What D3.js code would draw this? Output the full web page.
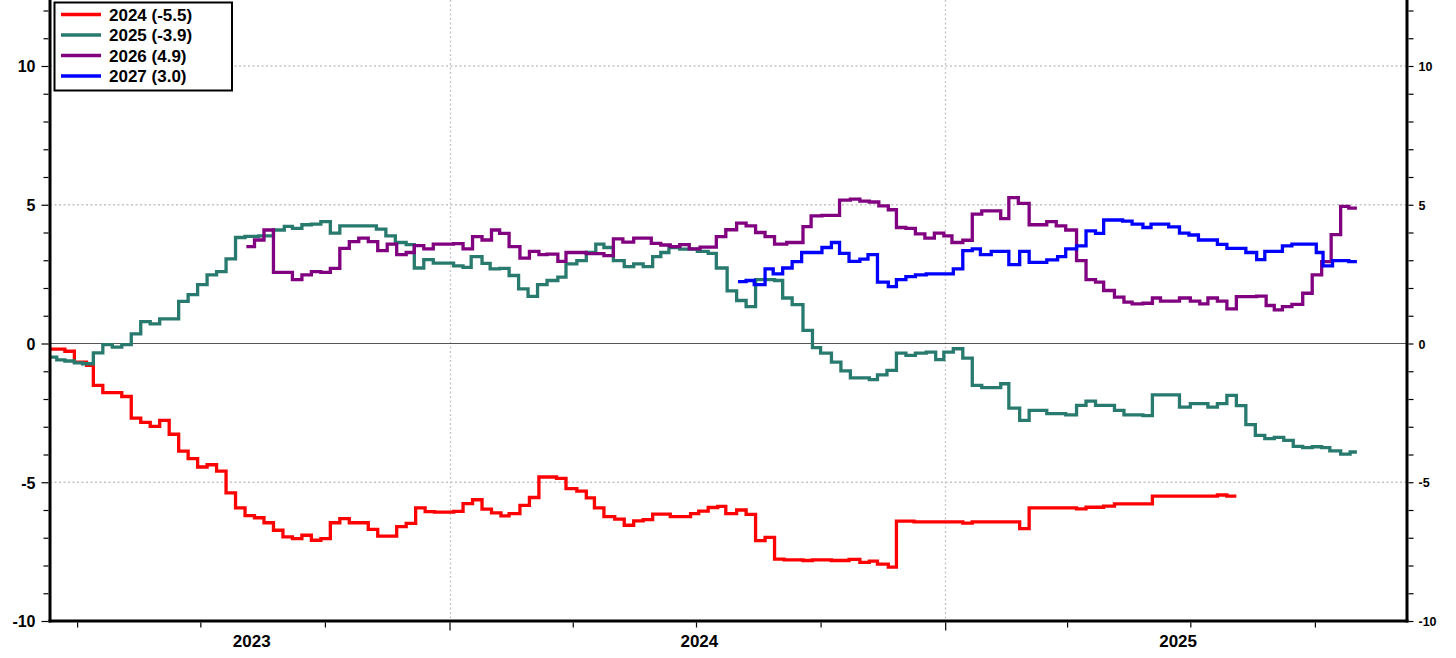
<!DOCTYPE html>
<html><head><meta charset="utf-8">
<script src="https://cdn.jsdelivr.net/npm/d3@7"></script>
<style>
body{margin:0;background:#fff}
svg{display:block}
text{font-family:"Liberation Sans",Arial,Helvetica,sans-serif;font-weight:bold;fill:#000}
</style>
</head><body>
<svg id="chart" width="1456" height="658"></svg>
<script>
// ---------- data ----------
const seriesLabels = ["2024 (-5.5)", "2025 (-3.9)", "2026 (4.9)", "2027 (3.0)"];
const yearLabels = ["2023", "2024", "2025"];
const yMajorTicks = [-10, -5, 0, 5, 10];
const xDomain = ["2023-03-12", "2025-12-08"];

const s2024 = [
["2023-03-12",-0.2],["2023-03-23",-0.28],["2023-03-30",-0.67],["2023-04-08",-0.79],["2023-04-13",-1.51],
["2023-04-20",-1.77],["2023-05-04",-1.91],["2023-05-11",-2.69],["2023-05-18",-2.84],["2023-05-25",-2.99],
["2023-06-01",-2.77],["2023-06-08",-3.27],["2023-06-15",-3.88],["2023-06-22",-4.15],["2023-06-29",-4.45],
["2023-07-06",-4.37],["2023-07-13",-4.6],["2023-07-20",-5.38],["2023-07-27",-5.92],["2023-08-03",-6.2],
["2023-08-10",-6.28],["2023-08-17",-6.46],["2023-08-24",-6.73],["2023-08-31",-6.97],["2023-09-07",-7.03],
["2023-09-14",-6.91],["2023-09-21",-7.09],["2023-09-28",-7.03],["2023-10-05",-6.46],["2023-10-12",-6.31],
["2023-10-19",-6.46],["2023-11-02",-6.7],["2023-11-09",-6.94],["2023-11-23",-6.6],["2023-11-30",-6.48],
["2023-12-07",-5.92],["2023-12-14",-6.06],["2023-12-21",-6.08],["2024-01-04",-6.05],["2024-01-11",-5.77],
["2024-01-18",-5.63],["2024-01-25",-5.97],["2024-02-01",-6.1],["2024-02-08",-6.21],["2024-02-14",-6.13],
["2024-02-22",-5.83],["2024-02-29",-5.55],["2024-03-07",-4.81],["2024-03-20",-4.86],["2024-03-27",-5.23],
["2024-04-04",-5.32],["2024-04-11",-5.56],["2024-04-17",-5.92],["2024-04-24",-6.24],["2024-05-02",-6.33],
["2024-05-09",-6.55],["2024-05-16",-6.39],["2024-05-23",-6.35],["2024-05-30",-6.15],["2024-06-12",-6.24],
["2024-06-27",-6.13],["2024-07-03",-6.04],["2024-07-10",-5.91],["2024-07-17",-5.87],["2024-07-23",-6.13],
["2024-07-31",-6.0],["2024-08-07",-6.16],["2024-08-14",-7.1],["2024-08-21",-6.99],["2024-08-28",-7.77],
["2024-09-04",-7.8],["2024-09-18",-7.82],["2024-09-25",-7.8],["2024-10-09",-7.82],["2024-10-22",-7.78],
["2024-10-30",-7.89],["2024-11-06",-7.84],["2024-11-12",-7.95],["2024-11-20",-8.06],["2024-11-26",-6.4],
["2024-12-09",-6.43],["2025-01-14",-6.47],["2025-01-21",-6.43],["2025-02-25",-6.67],["2025-03-04",-5.92],
["2025-04-08",-5.96],["2025-04-15",-5.9],["2025-04-28",-5.86],["2025-05-06",-5.78],["2025-06-03",-5.5],
["2025-07-21",-5.46],["2025-07-28",-5.5],["2025-08-04",-5.5]
];

const s2025 = [
["2023-03-12",-0.49],["2023-03-17",-0.59],["2023-03-23",-0.63],["2023-03-30",-0.7],["2023-04-05",-0.73],
["2023-04-13",-0.34],["2023-04-20",-0.04],["2023-04-27",-0.13],["2023-05-04",-0.04],["2023-05-11",0.35],
["2023-05-18",0.79],["2023-05-25",0.71],["2023-06-01",0.89],["2023-06-15",1.52],["2023-06-22",1.76],
["2023-06-29",2.12],["2023-07-06",2.47],["2023-07-13",2.59],["2023-07-20",3.05],["2023-07-27",3.82],
["2023-08-03",3.86],["2023-08-13",3.88],["2023-08-24",4.09],["2023-09-01",4.22],["2023-09-07",4.15],
["2023-09-14",4.28],["2023-09-21",4.3],["2023-09-28",4.39],["2023-10-05",3.98],["2023-10-12",4.24],
["2023-11-08",4.12],["2023-11-15",3.88],["2023-11-22",3.64],["2023-11-30",3.56],["2023-12-06",2.72],
["2023-12-13",3.02],["2023-12-20",2.9],["2024-01-04",2.8],["2024-01-11",2.74],["2024-01-17",3.13],
["2024-01-25",2.89],["2024-01-31",2.69],["2024-02-07",2.71],["2024-02-14",2.45],["2024-02-21",1.97],
["2024-02-28",1.7],["2024-03-06",2.12],["2024-03-13",2.27],["2024-03-21",2.39],["2024-03-27",2.87],
["2024-04-04",2.99],["2024-04-11",3.28],["2024-04-18",3.58],["2024-04-24",3.46],["2024-05-01",2.99],
["2024-05-09",2.77],["2024-05-16",2.87],["2024-05-23",2.77],["2024-05-30",3.13],["2024-06-05",3.28],
["2024-06-11",3.46],["2024-06-19",3.4],["2024-07-02",3.32],["2024-07-10",3.25],["2024-07-16",2.72],
["2024-07-24",1.9],["2024-07-31",1.55],["2024-08-07",1.33],["2024-08-14",2.3],["2024-08-28",2.27],
["2024-09-03",1.64],["2024-09-10",1.4],["2024-09-18",0.47],["2024-09-25",-0.15],["2024-10-01",-0.35],
["2024-10-09",-0.67],["2024-10-16",-0.99],["2024-10-23",-1.24],["2024-11-06",-1.3],["2024-11-12",-1.13],
["2024-11-19",-0.97],["2024-11-26",-0.35],["2024-12-03",-0.43],["2024-12-10",-0.35],["2024-12-18",-0.31],
["2024-12-25",-0.58],["2024-12-31",-0.31],["2025-01-07",-0.19],["2025-01-14",-0.53],["2025-01-21",-1.51],
["2025-01-28",-1.59],["2025-02-11",-1.45],["2025-02-17",-2.33],["2025-02-25",-2.77],["2025-03-04",-2.41],
["2025-03-17",-2.53],["2025-03-31",-2.57],["2025-04-08",-2.23],["2025-04-15",-2.08],["2025-04-22",-2.23],
["2025-05-06",-2.41],["2025-05-13",-2.57],["2025-05-27",-2.6],["2025-06-03",-1.85],["2025-06-23",-2.29],
["2025-07-01",-2.17],["2025-07-14",-2.29],["2025-07-21",-2.17],["2025-07-28",-1.87],["2025-08-04",-2.24],
["2025-08-11",-2.92],["2025-08-18",-3.31],["2025-08-25",-3.43],["2025-09-01",-3.38],["2025-09-08",-3.49],
["2025-09-15",-3.71],["2025-09-22",-3.75],["2025-09-29",-3.72],["2025-10-06",-3.75],["2025-10-12",-3.87],
["2025-10-20",-3.99],["2025-10-27",-3.91],["2025-11-01",-3.91]
];

const s2026 = [
["2023-08-04",3.49],["2023-08-10",3.73],["2023-08-17",4.09],["2023-08-24",2.56],["2023-09-07",2.3],
["2023-09-14",2.47],["2023-09-21",2.59],["2023-09-28",2.56],["2023-10-05",2.71],["2023-10-12",3.43],
["2023-10-19",3.67],["2023-10-26",3.8],["2023-11-02",3.67],["2023-11-09",3.35],["2023-11-16",3.58],
["2023-11-23",3.2],["2023-11-30",3.28],["2023-12-06",3.53],["2023-12-13",3.41],["2023-12-20",3.58],
["2024-01-04",3.6],["2024-01-11",3.41],["2024-01-18",3.85],["2024-01-25",3.73],["2024-02-01",4.09],
["2024-02-07",3.97],["2024-02-14",3.49],["2024-02-22",3.08],["2024-02-29",3.32],["2024-03-07",3.2],
["2024-03-13",3.22],["2024-03-21",2.96],["2024-03-27",3.28],["2024-04-11",3.24],["2024-04-24",3.17],
["2024-05-01",3.77],["2024-05-08",3.65],["2024-05-16",3.8],["2024-05-29",3.61],["2024-06-05",3.55],
["2024-06-12",3.49],["2024-06-19",3.56],["2024-06-26",3.41],["2024-07-04",3.47],["2024-07-16",3.85],
["2024-07-23",4.1],["2024-07-31",4.34],["2024-08-07",4.24],["2024-08-14",4.0],["2024-08-21",3.85],
["2024-08-28",3.58],["2024-09-06",3.64],["2024-09-18",4.21],["2024-09-24",4.6],["2024-10-02",4.62],
["2024-10-15",5.17],["2024-10-23",5.2],["2024-10-30",5.13],["2024-11-06",5.1],["2024-11-13",4.96],
["2024-11-20",4.82],["2024-11-26",4.18],["2024-12-03",4.15],["2024-12-10",3.95],["2024-12-17",3.8],
["2024-12-24",3.98],["2024-12-31",3.88],["2025-01-06",3.64],["2025-01-14",3.72],["2025-01-21",4.66],
["2025-01-28",4.78],["2025-02-11",4.5],["2025-02-17",5.26],["2025-02-24",5.05],["2025-03-04",4.28],
["2025-03-17",4.39],["2025-03-24",4.24],["2025-03-31",4.09],["2025-04-08",2.99],["2025-04-15",2.3],
["2025-04-22",2.21],["2025-04-28",1.91],["2025-05-06",1.67],["2025-05-13",1.49],["2025-05-19",1.43],
["2025-05-27",1.45],["2025-06-03",1.64],["2025-06-09",1.53],["2025-06-23",1.64],["2025-07-01",1.53],
["2025-07-08",1.43],["2025-07-14",1.64],["2025-07-21",1.53],["2025-07-28",1.25],["2025-08-04",1.69],
["2025-08-19",1.71],["2025-08-26",1.37],["2025-09-01",1.21],["2025-09-07",1.33],["2025-09-14",1.41],
["2025-09-22",1.81],["2025-09-29",2.47],["2025-10-06",2.95],["2025-10-13",3.92],["2025-10-20",4.94],
["2025-10-26",4.88],["2025-11-01",4.88]
];

const s2027 = [
["2024-08-01",2.23],["2024-08-07",2.27],["2024-08-13",2.12],["2024-08-21",2.69],["2024-08-27",2.51],
["2024-09-03",2.72],["2024-09-10",2.95],["2024-09-17",3.28],["2024-10-02",3.46],["2024-10-09",3.64],
["2024-10-15",3.25],["2024-10-22",2.96],["2024-10-30",3.04],["2024-11-05",3.2],["2024-11-12",2.21],
["2024-11-20",2.05],["2024-11-26",2.3],["2024-12-03",2.41],["2024-12-10",2.47],["2024-12-18",2.51],
["2025-01-07",2.69],["2025-01-14",3.35],["2025-01-21",3.41],["2025-01-27",3.2],["2025-02-04",3.32],
["2025-02-17",2.84],["2025-02-25",3.32],["2025-03-04",2.92],["2025-03-17",3.01],["2025-03-25",3.13],
["2025-03-31",3.41],["2025-04-08",3.52],["2025-04-15",4.06],["2025-04-22",3.97],["2025-04-28",4.45],
["2025-05-12",4.41],["2025-05-19",4.3],["2025-05-27",4.18],["2025-06-02",4.3],["2025-06-15",4.2],
["2025-06-23",3.98],["2025-06-30",3.91],["2025-07-07",3.73],["2025-07-21",3.57],["2025-07-28",3.43],
["2025-08-11",3.28],["2025-08-19",3.02],["2025-08-25",3.32],["2025-09-07",3.52],["2025-09-14",3.58],
["2025-10-02",3.28],["2025-10-07",2.8],["2025-10-14",2.99],["2025-10-26",2.95],["2025-11-01",2.95]
];

// ---------- styles ----------
const seriesColors = ["#ff0000", "#287a6e", "#800080", "#0000ff"];
const allSeries = [s2024, s2025, s2026, s2027];

// ---------- layout ----------
const L = 50, R = 1407, T = 0, B = 621;
const parse = d3.utcParse("%Y-%m-%d");

const x = d3.scaleUtc().domain(xDomain.map(parse)).range([L, R]);
const y = d3.scaleLinear().domain([-10, 10]).range([B, 66]);

const svg = d3.select("#chart");

svg.append("defs").append("clipPath").attr("id", "plotclip")
  .append("rect").attr("x", L).attr("y", T).attr("width", R - L).attr("height", B - T);

// horizontal dotted grid
const gridY = yMajorTicks.filter(v => v !== 0 && v !== -10);
svg.append("g").selectAll("line").data(gridY).join("line")
  .attr("x1", L).attr("x2", R).attr("y1", d => y(d)).attr("y2", d => y(d))
  .attr("stroke", "#c4c4c4").attr("stroke-width", 1.3).attr("stroke-dasharray", "2,2.5");

// vertical dotted grid at year starts
const yearStarts = d3.utcYear.range(x.domain()[0], x.domain()[1]).filter(d => d > x.domain()[0]);
svg.append("g").selectAll("line").data(yearStarts).join("line")
  .attr("x1", d => Math.round(x(d)) + 0.5).attr("x2", d => Math.round(x(d)) + 0.5)
  .attr("y1", T).attr("y2", B)
  .attr("stroke", "#c4c4c4").attr("stroke-width", 1.3).attr("stroke-dasharray", "2,2.5");

// zero line
svg.append("line").attr("x1", L).attr("x2", R).attr("y1", y(0)).attr("y2", y(0))
  .attr("stroke", "#555").attr("stroke-width", 1);

// series
const line = d3.line()
  .x(d => x(parse(d[0])))
  .y(d => y(d[1]))
  .curve(d3.curveStepAfter);

const gLines = svg.append("g").attr("clip-path", "url(#plotclip)");
allSeries.forEach((s, i) => {
  gLines.append("path").datum(s)
    .attr("d", line)
    .attr("fill", "none")
    .attr("stroke", seriesColors[i])
    .attr("stroke-width", 3.3)
    .attr("stroke-linejoin", "miter")
    .attr("stroke-linecap", "butt");
});

// thick axis lines
svg.append("line").attr("x1", L).attr("x2", L).attr("y1", T).attr("y2", B + 1.5)
  .attr("stroke", "#000").attr("stroke-width", 3);
svg.append("line").attr("x1", R).attr("x2", R).attr("y1", T).attr("y2", B + 1.5)
  .attr("stroke", "#000").attr("stroke-width", 3);
svg.append("line").attr("x1", L - 1.5).attr("x2", R + 1.5).attr("y1", B).attr("y2", B)
  .attr("stroke", "#000").attr("stroke-width", 3);

// left axis
const minorY = d3.range(-10, 13, 1);
const leftAxis = d3.axisLeft(y).tickValues(minorY).tickSize(5).tickFormat(() => "");
const gL = svg.append("g").attr("transform", `translate(${L - 1.5},0)`).call(leftAxis);
gL.select(".domain").remove();
gL.selectAll(".tick line").attr("stroke", "#000").attr("stroke-width", 1.2)
  .attr("x2", d => yMajorTicks.includes(d) ? -7 : -5);
gL.selectAll(".tick").filter(d => yMajorTicks.includes(d)).append("text")
  .attr("x", -13).attr("dy", "0.36em").attr("text-anchor", "end")
  .style("font-size", "16px").text(d => d);

// right axis
const rightAxis = d3.axisRight(y).tickValues(minorY).tickSize(5).tickFormat(() => "");
const gR = svg.append("g").attr("transform", `translate(${R + 1.5},0)`).call(rightAxis);
gR.select(".domain").remove();
gR.selectAll(".tick line").attr("stroke", "#000").attr("stroke-width", 1.2);
gR.selectAll(".tick").filter(d => yMajorTicks.includes(d)).append("text")
  .attr("x", 10).attr("dy", "0.36em").attr("text-anchor", "start")
  .style("font-size", "12.5px").text(d => d);

// bottom axis: quarter ticks
const quarters = d3.utcMonth.every(3).range(x.domain()[0], x.domain()[1]);
const bottomAxis = d3.axisBottom(x).tickValues(quarters).tickSize(5).tickFormat(() => "");
const gB = svg.append("g").attr("transform", `translate(0,${B + 1.5})`).call(bottomAxis);
gB.select(".domain").remove();
gB.selectAll(".tick line").attr("stroke", "#000").attr("stroke-width", 1.2)
  .attr("y2", d => d.getUTCMonth() === 0 ? 8 : 5);

// year labels centered in visible portion of each year
yearLabels.forEach(lbl => {
  const y0 = parse(lbl + "-01-01"), y1 = parse((+lbl + 1) + "-01-01");
  const a = Math.max(x(y0), L), b = Math.min(x(y1), R);
  svg.append("text").attr("x", (a + b) / 2 + 2).attr("y", 647)
    .attr("text-anchor", "middle").style("font-size", "17px").text(lbl);
});

// legend
const lg = svg.append("g");
lg.append("rect").attr("x", 54.5).attr("y", 2.5).attr("width", 177.5).attr("height", 88)
  .attr("fill", "#fff").attr("stroke", "#000").attr("stroke-width", 2);
seriesLabels.forEach((lbl, i) => {
  const yy = 14.5 + i * 20.5;
  lg.append("line").attr("x1", 61).attr("x2", 101).attr("y1", yy).attr("y2", yy)
    .attr("stroke", seriesColors[i]).attr("stroke-width", 3.3);
  lg.append("text").attr("x", 109).attr("y", yy).attr("dy", "0.36em")
    .style("font-size", "17px").text(lbl);
});
</script>
</body></html>
